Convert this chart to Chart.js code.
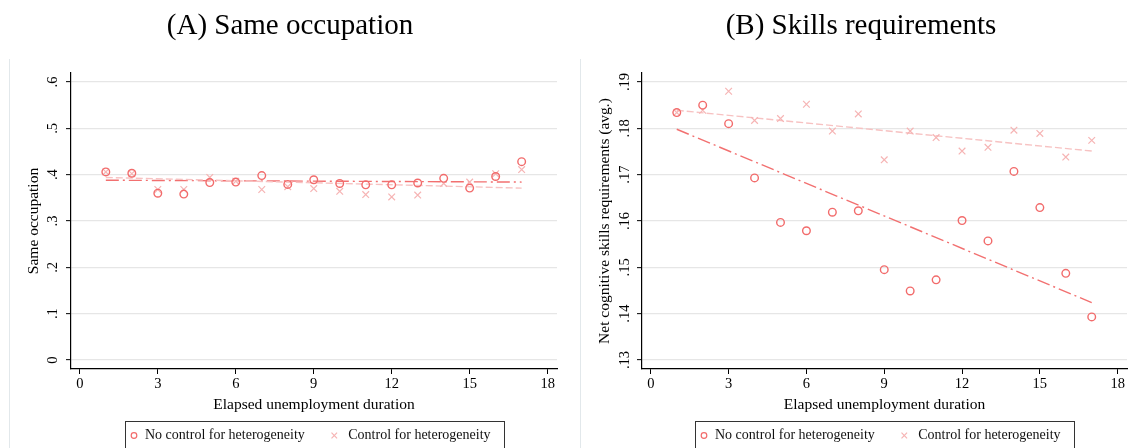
<!DOCTYPE html>
<html>
<head>
<meta charset="utf-8">
<script src="https://cdn.jsdelivr.net/npm/chart.js@4/dist/chart.umd.min.js"></script>
<style>
  html, body { margin: 0; padding: 0; background: #fff; overflow: hidden; }
  #wrap { position: relative; width: 1131px; height: 448px; overflow: hidden; }
  .panel { position: absolute; top: 0; width: 562px; height: 448px; }
  #panelA { left: 9px; }
  #panelB { left: 580px; }
</style>
</head>
<body>
<div id="wrap">
  <div class="panel" id="panelA"><canvas id="chartA"></canvas></div>
  <div class="panel" id="panelB"><canvas id="chartB"></canvas></div>
</div>
<script>
// Elapsed unemployment duration (x)
const durations = [1, 2, 3, 4, 5, 6, 7, 8, 9, 10, 11, 12, 13, 14, 15, 16, 17];
const xTicks = [0, 3, 6, 9, 12, 15, 18];
const seriesLabels = ['No control for heterogeneity', 'Control for heterogeneity'];

// (A) Same occupation
const sameOccNoCtrl = [0.406, 0.403, 0.360, 0.358, 0.383, 0.384, 0.398, 0.379, 0.389, 0.381, 0.378, 0.378, 0.382, 0.392, 0.371, 0.396, 0.428];
const sameOccCtrl = [0.406, 0.402, 0.368, 0.368, 0.394, 0.386, 0.368, 0.374, 0.370, 0.364, 0.357, 0.352, 0.356, 0.381, 0.384, 0.402, 0.411];
const sameOccFitNoCtrl = [0.388, 0.384];
const sameOccFitCtrl = [0.394, 0.371];
const sameOccTicks = [0, 0.1, 0.2, 0.3, 0.4, 0.5, 0.6];
const sameOccTickLabels = ['0', '.1', '.2', '.3', '.4', '.5', '.6'];

// (B) Skills requirements
const skillsNoCtrl = [0.1834, 0.1850, 0.1810, 0.1693, 0.1597, 0.1579, 0.1619, 0.1622, 0.1495, 0.1449, 0.1473, 0.1601, 0.1557, 0.1707, 0.1629, 0.1487, 0.1393];
const skillsCtrl = [0.1834, 0.1839, 0.1880, 0.1817, 0.1821, 0.1852, 0.1794, 0.1831, 0.1732, 0.1794, 0.1780, 0.1751, 0.1759, 0.1796, 0.1789, 0.1738, 0.1774];
const skillsFitNoCtrl = [0.1798, 0.1424];
const skillsFitCtrl = [0.1839, 0.1751];
const skillsTicks = [0.13, 0.14, 0.15, 0.16, 0.17, 0.18, 0.19];
const skillsTickLabels = ['.13', '.14', '.15', '.16', '.17', '.18', '.19'];

// fitted lines run from first to last duration
const fitX = [1, 17];

const colors = {
    noCtrl: '#f26b6b',
    ctrl: '#f6b4b4',
    fitNoCtrl: '#f27070',
    fitCtrl: '#f7c2c2',
    grid: '#e6e6e6',
    edge: '#e2e8eb'
};
const serif = "'Liberation Serif', 'Times New Roman', serif";

Chart.defaults.font.family = serif;
Chart.defaults.color = '#000';

const toPoints = (xs, ys) => xs.map((x, i) => ({ x: x, y: ys[i] }));

// panel frame line + boxed legend underneath the x title
const panelDecor = {
    id: 'panelDecor',
    afterDraw(chart) {
        const ctx = chart.ctx;
        const a = chart.chartArea;
        ctx.save();
        ctx.strokeStyle = colors.edge;
        ctx.lineWidth = 1;
        ctx.beginPath();
        ctx.moveTo(0.5, 59);
        ctx.lineTo(0.5, chart.height);
        ctx.stroke();

        ctx.font = '14px ' + serif;
        const w1 = ctx.measureText(seriesLabels[0]).width;
        const w2 = ctx.measureText(seriesLabels[1]).width;
        const boxW = Math.round(77 + w1 + w2);
        const left = Math.round((a.left + a.right) / 2 - boxW / 2);
        const top = Math.round(a.bottom + 52);
        const mid = top + 14.5;
        ctx.strokeStyle = '#333';
        ctx.strokeRect(left + 0.5, top + 0.5, boxW, 40);

        // circle marker
        ctx.strokeStyle = colors.noCtrl;
        ctx.lineWidth = 1.2;
        ctx.beginPath();
        ctx.arc(left + 9, mid, 2.8, 0, Math.PI * 2);
        ctx.stroke();

        ctx.fillStyle = '#111';
        ctx.textBaseline = 'middle';
        ctx.textAlign = 'left';
        ctx.fillText(seriesLabels[0], left + 20, mid);

        // cross marker
        const cx = left + 20 + w1 + 29.5;
        ctx.strokeStyle = colors.ctrl;
        ctx.beginPath();
        ctx.moveTo(cx - 2.8, mid - 2.8); ctx.lineTo(cx + 2.8, mid + 2.8);
        ctx.moveTo(cx - 2.8, mid + 2.8); ctx.lineTo(cx + 2.8, mid - 2.8);
        ctx.stroke();
        ctx.fillText(seriesLabels[1], cx + 14, mid);
        ctx.restore();
    }
};

function makePanel(canvasId, p) {
    const tickFont = { family: serif, size: 14.5 };
    const titleFont = { family: serif, size: 15.5 };
    return new Chart(document.getElementById(canvasId).getContext('2d'), {
        type: 'scatter',
        data: {
            datasets: [
                {
                    label: seriesLabels[0],
                    data: toPoints(durations, p.noCtrl),
                    pointStyle: 'circle',
                    pointRadius: 3.8,
                    pointBorderWidth: 1.4,
                    borderColor: colors.noCtrl,
                    backgroundColor: 'transparent'
                },
                {
                    label: seriesLabels[1],
                    data: toPoints(durations, p.ctrl),
                    pointStyle: 'crossRot',
                    pointRadius: 4.7,
                    pointBorderWidth: 1.2,
                    borderColor: colors.ctrl,
                    backgroundColor: 'transparent'
                },
                {
                    label: 'fit ' + seriesLabels[1],
                    data: toPoints(fitX, p.fitCtrl),
                    showLine: true,
                    pointRadius: 0,
                    borderColor: colors.fitCtrl,
                    borderWidth: 1.4,
                    borderDash: [7, 3]
                },
                {
                    label: 'fit ' + seriesLabels[0],
                    data: toPoints(fitX, p.fitNoCtrl),
                    showLine: true,
                    pointRadius: 0,
                    borderColor: colors.fitNoCtrl,
                    borderWidth: 1.4,
                    borderDash: [13, 4, 2, 4]
                }
            ]
        },
        options: {
            responsive: true,
            maintainAspectRatio: false,
            animation: false,
            // equal side padding keeps the title centred on the panel
            layout: { padding: { left: p.pad, right: p.pad, top: 0, bottom: 29 } },
            scales: {
                x: {
                    type: 'linear',
                    min: -0.34,
                    max: 18.36,
                    afterBuildTicks: s => { s.ticks = xTicks.map(v => ({ value: v })); },
                    afterFit: s => { s.height = 50; },
                    grid: { drawOnChartArea: false, tickLength: 5, tickColor: '#000', tickWidth: 1 },
                    border: { color: '#000', width: 1.2 },
                    ticks: { padding: 1, font: tickFont, color: '#000', maxRotation: 0, autoSkip: false },
                    title: {
                        display: true,
                        text: 'Elapsed unemployment duration',
                        font: titleFont,
                        color: '#000',
                        padding: { top: 0, bottom: 5 }
                    }
                },
                y: {
                    type: 'linear',
                    min: p.yMin,
                    max: p.yMax,
                    afterBuildTicks: s => { s.ticks = p.yTicks.map(v => ({ value: v })); },
                    afterFit: s => { s.width = 62 - p.pad; },
                    grid: { color: colors.grid, lineWidth: 1.3, tickLength: 5, tickColor: '#000', tickWidth: 1 },
                    border: { color: '#000', width: 1.2 },
                    ticks: {
                        minRotation: 90,
                        maxRotation: 90,
                        crossAlign: 'center',
                        padding: p.yTickPad,
                        font: tickFont,
                        color: '#000',
                        autoSkip: false,
                        callback: (value, index) => p.yLabels[index]
                    },
                    title: {
                        display: true,
                        text: p.yTitle,
                        font: titleFont,
                        color: '#000',
                        padding: { top: p.yTitlePad, bottom: 0 }
                    }
                }
            },
            plugins: {
                legend: { display: false },
                tooltip: { enabled: false },
                title: {
                    display: true,
                    text: p.title,
                    font: { family: serif, size: 29, weight: 'normal' },
                    color: '#000',
                    padding: { top: 8.6, bottom: 29.6 }
                }
            }
        },
        plugins: [panelDecor]
    });
}

makePanel('chartA', {
    title: '(A) Same occupation',
    yTitle: 'Same occupation',
    noCtrl: sameOccNoCtrl,
    ctrl: sameOccCtrl,
    fitNoCtrl: sameOccFitNoCtrl,
    fitCtrl: sameOccFitCtrl,
    yTicks: sameOccTicks,
    yLabels: sameOccTickLabels,
    yMin: -0.0194,
    yMax: 0.6194,
    yTickPad: 7,
    yTitlePad: 1.5,
    pad: 14
});

makePanel('chartB', {
    title: '(B) Skills requirements',
    yTitle: 'Net cognitive skills requirements (avg.)',
    noCtrl: skillsNoCtrl,
    ctrl: skillsCtrl,
    fitNoCtrl: skillsFitNoCtrl,
    fitCtrl: skillsFitCtrl,
    yTicks: skillsTicks,
    yLabels: skillsTickLabels,
    yMin: 0.12806,
    yMax: 0.19194,
    yTickPad: 2.9,
    yTitlePad: 0.7,
    pad: 15
});
</script>
</body>
</html>
